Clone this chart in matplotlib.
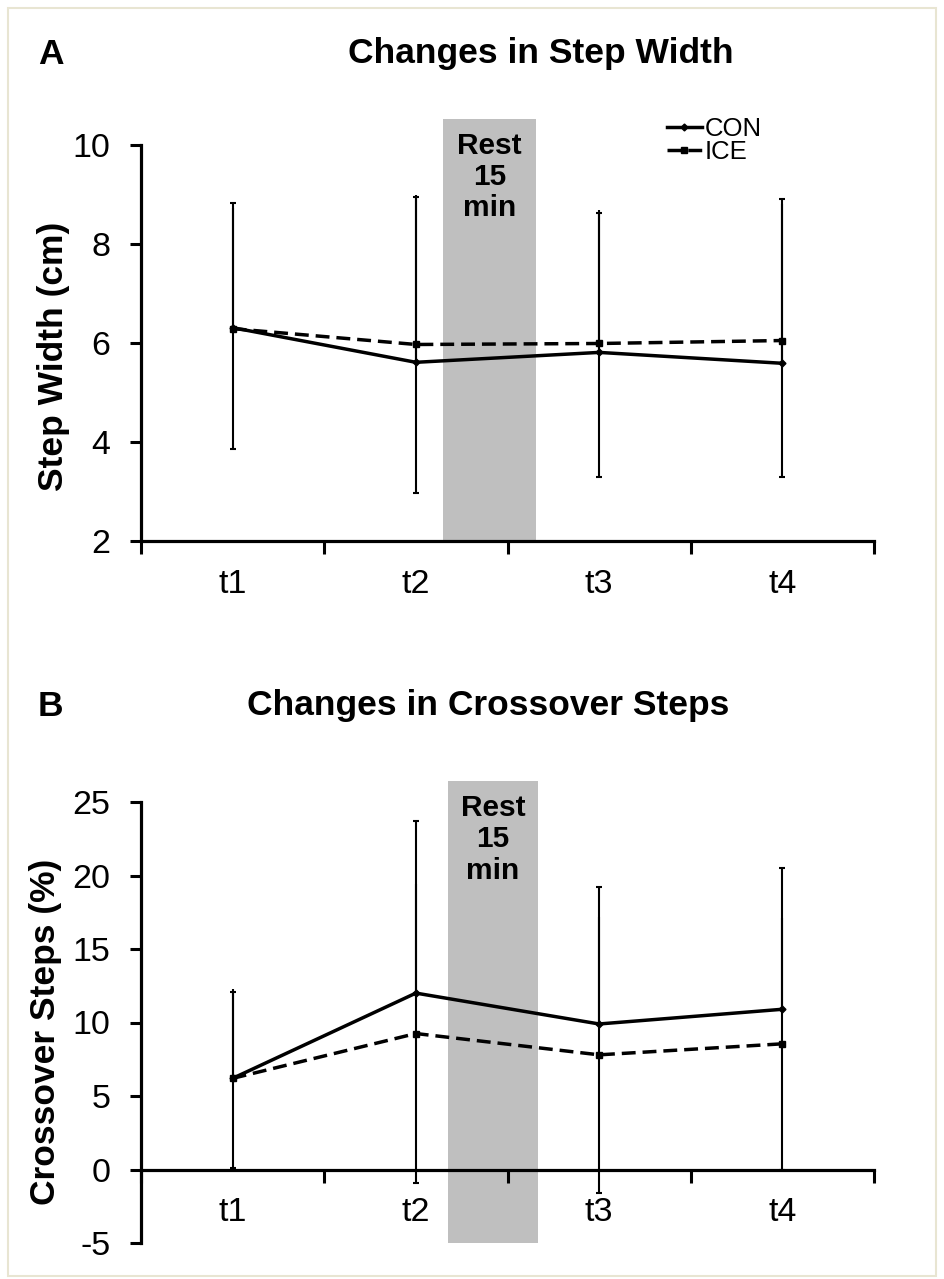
import matplotlib
matplotlib.use("Agg")
import matplotlib.pyplot as plt
from matplotlib.patches import Rectangle
import numpy as np

plt.rcParams['font.family'] = ['Liberation Sans', 'DejaVu Sans']
plt.rcParams['axes.unicode_minus'] = False

# ---- data ----
time_labels = ['t1', 't2', 't3', 't4']

width_con = [6.31, 5.61, 5.81, 5.59]
width_ice = [6.29, 5.97, 5.99, 6.05]
width_con_sd = [2.52, 3.34, 2.81, 3.31]
width_ice_sd = [2.43, 3.01, 2.70, 2.76]

cross_con = [6.2, 12.0, 9.9, 10.9]
cross_ice = [6.2, 9.25, 7.8, 8.55]
cross_con_sd = [5.86, 11.7, 9.3, 9.6]
cross_ice_sd = [6.1, 10.2, 9.4, 8.55]

W, H = 944, 1279
fig = plt.figure(figsize=(W / 100, H / 100), dpi=100)

# thin frame around the figure
fig.patches.append(Rectangle((8 / W, 3 / H), 928 / W, 1268 / H, transform=fig.transFigure,
                             fill=False, edgecolor='#e8e5d2', linewidth=1.5))

AX_LEFT, AX_RIGHT = 141, 874
TICK_FS = 24.5


def make_axes(top_px, bottom_px):
    return fig.add_axes([AX_LEFT / W, 1 - bottom_px / H,
                         (AX_RIGHT - AX_LEFT) / W, (bottom_px - top_px) / H])


def style_axes(ax, ylim, yticks):
    n = len(time_labels)
    x = np.arange(n)
    ax.set_xlim(-0.5, n - 0.5)
    ax.set_ylim(*ylim)
    ax.set_yticks(yticks)
    ax.set_yticklabels([str(v) for v in yticks])
    ax.set_xticks(np.arange(n + 1) - 0.5)
    ax.set_xticklabels([''] * (n + 1))
    ax.set_xticks(x, minor=True)
    ax.set_xticklabels(time_labels, minor=True)
    ax.tick_params(axis='x', which='major', direction='out', length=9, width=2.2)
    ax.tick_params(axis='x', which='minor', length=0, pad=20, labelsize=TICK_FS)
    ax.tick_params(axis='y', direction='out', length=8, width=2.2, pad=14, labelsize=TICK_FS)
    for s in ['top', 'right']:
        ax.spines[s].set_visible(False)
    for s in ['left', 'bottom']:
        ax.spines[s].set_linewidth(2.3)
    ax.patch.set_alpha(0)
    return x


def draw_series(ax, x, con, ice, con_sd, ice_sd):
    zeros = [0] * len(con)
    eb = dict(fmt='none', ecolor='black', elinewidth=1.5, capthick=1.5, zorder=3)
    # CON: upper error bars
    ax.errorbar(x, con, yerr=[zeros, con_sd], capsize=2.5, **eb)
    # ICE: symmetric error bars (upper part drawn without cap)
    ax.errorbar(x, ice, yerr=[ice_sd, zeros], capsize=2.5, **eb)
    ax.errorbar(x, ice, yerr=[zeros, ice_sd], capsize=0, **eb)
    l1, = ax.plot(x, con, color='black', lw=2.5, marker='D', ms=3.5, zorder=4, label='CON')
    l2, = ax.plot(x, ice, color='black', lw=2.5, ls=(0, (4, 2)), marker='s', ms=4.5,
                  zorder=4, label='ICE')
    return l1, l2


def rest_box(ax, x0, x1, y0, y1, ytext):
    ax.add_patch(Rectangle((x0, y0), x1 - x0, y1 - y0, facecolor='#bfbfbf',
                           edgecolor='none', zorder=1, clip_on=False))
    ax.text((x0 + x1) / 2, ytext, 'Rest\n15\nmin', ha='center', va='center',
            fontsize=21.5, fontweight='bold', linespacing=1.15, zorder=2)


# ---- Panel A ----
axA = make_axes(145, 541)
xA = style_axes(axA, (2, 10), [2, 4, 6, 8, 10])
rest_box(axA, 1.15, 1.655, 2, 10.53, 9.35)
hA = draw_series(axA, xA, width_con, width_ice, width_con_sd, width_ice_sd)

fig.text(51 / W, 1 - 54 / H, 'A', fontsize=25.5, fontweight='bold', ha='center', va='center')
fig.text(541 / W, 1 - 54 / H, 'Changes in Step Width', fontsize=25.5, fontweight='bold',
         ha='center', va='center')
fig.text(53 / W, 1 - 356 / H, 'Step Width (cm)', fontsize=25.5, fontweight='bold',
         rotation=90, ha='center', va='center')

fig.legend(handles=list(hA), labels=['CON', 'ICE'], loc='upper left',
           bbox_to_anchor=(667 / W, 1 - 117 / H), frameon=False, fontsize=18.5,
           handlelength=1.35, handletextpad=0.1, labelspacing=-0.05, borderpad=0,
           borderaxespad=0)

# ---- Panel B ----
axB = make_axes(802, 1243)
xB = style_axes(axB, (-5, 25), [-5, 0, 5, 10, 15, 20, 25])
axB.spines['bottom'].set_position(('data', 0))
rest_box(axB, 1.175, 1.665, -5, 26.4, 22.45)
draw_series(axB, xB, cross_con, cross_ice, cross_con_sd, cross_ice_sd)

fig.text(50 / W, 1 - 706 / H, 'B', fontsize=25.5, fontweight='bold', ha='center', va='center')
fig.text(488 / W, 1 - 706 / H, 'Changes in Crossover Steps', fontsize=25.5, fontweight='bold',
         ha='center', va='center')
fig.text(46 / W, 1 - 1032 / H, 'Crossover Steps (%)', fontsize=25.5, fontweight='bold',
         rotation=90, ha='center', va='center')

fig.savefig('out.png', dpi=100, facecolor='white')
